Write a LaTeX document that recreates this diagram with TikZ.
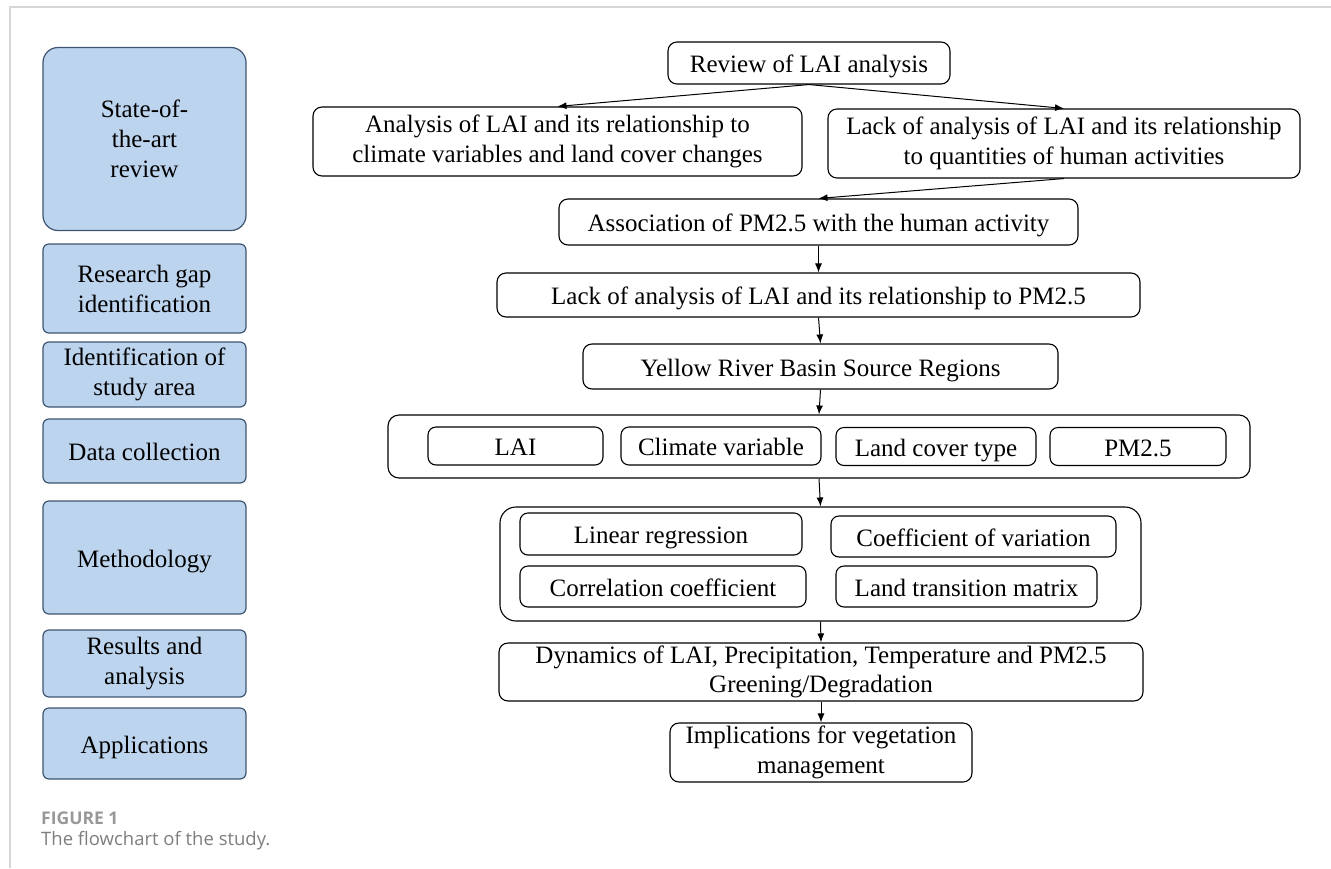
\documentclass[tikz,border=0pt]{standalone}
\usepackage{fontspec}
\setmainfont{Liberation Serif}
\newfontfamily\capfont{Open Sans}
\usetikzlibrary{arrows.meta,calc}
\definecolor{sidefill}{HTML}{BDD4EE}
\definecolor{sidedraw}{HTML}{3F5570}
\definecolor{framegray}{HTML}{D6D6D6}
\definecolor{capgray}{HTML}{7E7E7E}
\tikzset{
  box/.style={draw=black, line width=1.1pt, rounded corners=9pt, fill=white, inner sep=0pt, align=center, font=\fontsize{25}{29.5}\selectfont},
  single/.style={text height=20pt, text depth=1pt},
  container/.style={draw=black, line width=1.1pt, inner sep=0pt},
  side/.style={draw=sidedraw, fill=sidefill, line width=1.2pt, rounded corners=6pt, inner sep=0pt, align=center, minimum width=203pt, font=\fontsize{25}{30}\selectfont},
  arr/.style={-{Latex[length=9pt,width=7pt]}, line width=1pt},
}
\begin{document}
\begin{tikzpicture}[x=1pt,y=-1pt]
\useasboundingbox (0,0) rectangle (1331,868);
% frame
\draw[framegray, line width=2pt] (10,868) -- (10,7) -- (1331,7);
% left column
\node[side, rounded corners=15pt, minimum height=183pt] (s1) at (144.5,139) {State-of-\\the-art\\review};
\node[side, minimum height=89pt] (s2) at (144.5,288.5) {Research gap\\identification};
\node[side, minimum height=65pt] (s3) at (144.5,374.5) {Identification of\\study area};
\node[side, single, minimum height=64pt] (s4) at (144.5,451) {Data collection};
\node[side, single, minimum height=113pt] (s5) at (144.5,557.5) {Methodology};
\node[side, minimum height=67pt] (s6) at (144.5,663.5) {Results and\\analysis};
\node[side, single, minimum height=71pt] (s7) at (144.5,743.5) {Applications};
% right flow
\node[box, single, minimum width=282pt, minimum height=42pt] (review) at (809,63) {Review of LAI analysis};
\node[box, minimum width=489pt, minimum height=69pt] (analysis) at (557.5,141.5) {Analysis of LAI and its relationship to\\climate variables and land cover changes};
\node[box, minimum width=472pt, minimum height=69pt] (lack1) at (1064,143.5) {Lack of analysis of LAI and its relationship\\to quantities of human activities};
\node[box, single, minimum width=519pt, minimum height=46pt] (assoc) at (818.5,222) {Association of PM2.5 with the human activity};
\node[box, single, minimum width=643pt, minimum height=44pt] (lack2) at (818.5,295) {Lack of analysis of LAI and its relationship to PM2.5};
\node[box, single, minimum width=475pt, minimum height=45pt] (yellow) at (820.5,366.5) {Yellow River Basin Source Regions};
% data container
\node[container, rounded corners=11pt, minimum width=862pt, minimum height=63pt] (data) at (819,446.5) {};
\node[box, single, rounded corners=8pt, minimum width=175pt, minimum height=38pt] (lai) at (515.5,446) {LAI};
\node[box, single, rounded corners=8pt, minimum width=200pt, minimum height=38pt] (clim) at (721,446) {Climate variable};
\node[box, single, rounded corners=8pt, minimum width=200pt, minimum height=38pt] (land) at (936,446.5) {Land cover type};
\node[box, single, rounded corners=8pt, minimum width=176pt, minimum height=38pt] (pm) at (1138,446.5) {PM2.5};
% method container
\node[container, rounded corners=16pt, minimum width=641pt, minimum height=114pt] (method) at (820.5,564) {};
\node[box, single, rounded corners=8pt, minimum width=282pt, minimum height=42pt] (linreg) at (661,534) {Linear regression};
\node[box, single, rounded corners=8pt, minimum width=285pt, minimum height=41pt] (coefvar) at (973.5,536.5) {Coefficient of variation};
\node[box, single, rounded corners=8pt, minimum width=286pt, minimum height=41pt] (corr) at (663,586.5) {Correlation coefficient};
\node[box, single, rounded corners=8pt, minimum width=261pt, minimum height=41pt] (landtr) at (966.5,586.5) {Land transition matrix};
\node[box, minimum width=644pt, minimum height=58pt] (dyn) at (821,672) {Dynamics of LAI, Precipitation, Temperature and PM2.5\\Greening/Degradation};
\node[box, minimum width=302pt, minimum height=59pt] (impl) at (821,752.5) {Implications for vegetation\\management};
% arrows
\draw[arr] (review.south) -- (analysis.north);
\draw[arr] (review.south) -- (lack1.north);
\draw[arr] (lack1.south) -- (assoc.north);
\draw[arr] (assoc.south) -- (lack2.north);
\draw[arr] (lack2.south) -- (yellow.north);
\draw[arr] (yellow.south) -- (data.north);
\draw[arr] (data.south) -- (method.north);
\draw[arr] (method.south) -- (dyn.north);
\draw[arr] (dyn.south) -- (impl.north);
% caption
\node[anchor=base west, inner sep=0pt, text=capgray!80!white, font=\capfont\bfseries\fontsize{17.5}{20}\selectfont] (figlabel) at (41,824) {FIGURE 1};
\node[anchor=base west, inner sep=0pt, text=capgray, font=\capfont\fontsize{18.5}{22}\selectfont] (figcap) at (41,845) {The flowchart of the study.};
\end{tikzpicture}
\end{document}
